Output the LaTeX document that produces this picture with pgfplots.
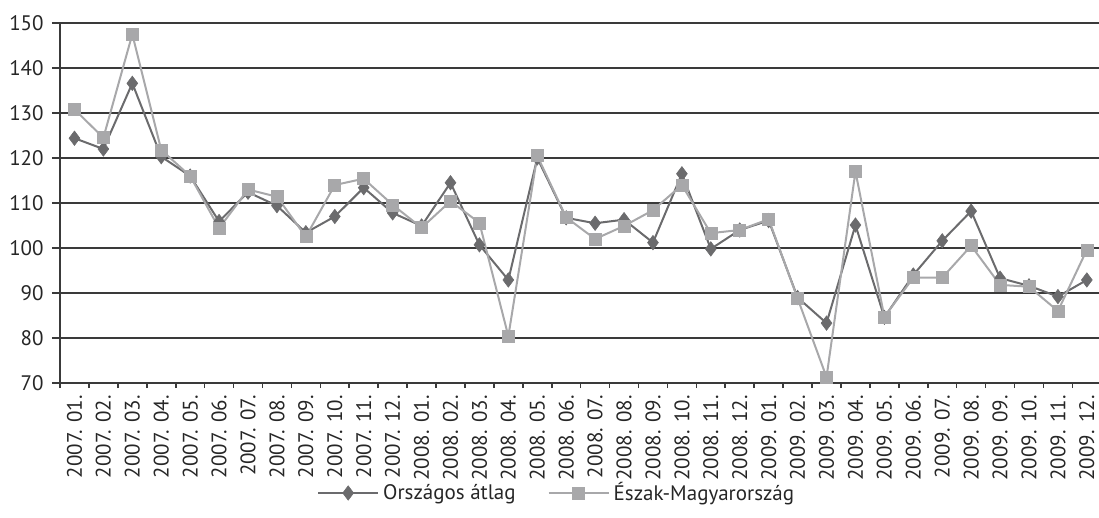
\documentclass[border=0pt]{standalone}
\usepackage{pgfplots}
\pgfplotsset{compat=1.18}
\usepackage{fontspec}
\setmainfont{PT Sans}
\definecolor{darkser}{HTML}{6B6B6D}
\definecolor{lightser}{HTML}{A8A8AA}
\definecolor{gridc}{HTML}{3A3A3A}
\pgfplotstableread{
x orsz eszak
1 124.4 130.8
2 122.0 124.5
3 136.6 147.5
4 120.3 121.8
5 116.0 116.0
6 105.9 104.4
7 112.4 113.0
8 109.4 111.4
9 103.4 102.5
10 107.0 114.0
11 113.4 115.4
12 107.8 109.6
13 104.9 104.5
14 114.5 110.4
15 100.7 105.6
16 92.9 80.4
17 120.0 120.5
18 106.7 106.8
19 105.5 102.0
20 106.3 104.9
21 101.2 108.4
22 116.5 114.0
23 99.8 103.3
24 104.0 104.0
25 106.1 106.4
26 89.0 88.8
27 83.3 71.3
28 105.1 117.0
29 84.6 84.7
30 94.0 93.4
31 101.6 93.4
32 108.2 100.5
33 93.3 91.8
34 91.6 91.4
35 89.2 86.0
36 92.9 99.6
}\datatable
\begin{document}
\begin{tikzpicture}
\useasboundingbox (0,0) rectangle (549.5pt,-259pt);
\begin{axis}[
  at={(30pt,-191.5pt)}, anchor=south west,
  width=519.5pt, height=180pt, scale only axis,
  xmin=0.5, xmax=36.42, ymin=70, ymax=150,
  axis x line*=bottom, axis y line*=left,
  axis line style={draw=gridc, line width=0.8pt, -},
  ytick={70,80,...,150},
  ymajorgrids, major grid style={draw=gridc, line width=0.8pt},
  xtick={1,...,36},
  xticklabels={2007. 01.,2007. 02.,2007. 03.,2007. 04.,2007. 05.,2007. 06.,2007. 07.,2007. 08.,2007. 09.,2007. 10.,2007. 11.,2007. 12.,2008. 01.,2008. 02.,2008. 03.,2008. 04.,2008. 05.,2008. 06.,2008. 07.,2008. 08.,2008. 09.,2008. 10.,2008. 11.,2008. 12.,2009. 01.,2009. 02.,2009. 03.,2009. 04.,2009. 05.,2009. 06.,2009. 07.,2009. 08.,2009. 09.,2009. 10.,2009. 11.,2009. 12.},
  minor xtick={0.5,1.5,...,35.5},
  tick align=outside,
  major tick length=4pt, minor tick length=2.5pt,
  x tick style={draw=none},
  minor x tick style={draw=gridc, line width=0.8pt},
  y tick style={draw=gridc, line width=0.8pt},
  tick label style={font=\fontsize{10.5}{12}\selectfont, text=black!85},
  xticklabel style={rotate=90, anchor=east, inner sep=2pt},
  yticklabel style={anchor=east, inner sep=2pt, xshift=-2pt},
  /pgf/number format/assume math mode=true,
  legend columns=2,
  legend style={at={(0.479,-0.3056)}, anchor=center, draw=none, fill=none,
    font=\fontsize{10.5}{12}\selectfont, text=black!85,
    /tikz/every even column/.append style={column sep=14pt},
    inner sep=0pt},
  legend cell align=left,
  legend image code/.code={
    \draw[mark repeat=2,mark phase=2,#1] plot coordinates {(0pt,0pt) (15pt,0pt) (30pt,0pt)};
  },
]
\addplot[color=darkser, line width=1pt, mark=diamond*, mark size=3.6pt,
  mark options={fill=darkser, draw=darkser, line width=0.3pt}]
  table[x=x, y=orsz] {\datatable};
\addlegendentry{Országos átlag}
\addplot[color=lightser, line width=1pt, mark=square*, mark size=3pt,
  mark options={fill=lightser, draw=lightser, line width=0.3pt}]
  table[x=x, y=eszak] {\datatable};
\addlegendentry{Észak-Magyarország}
\end{axis}
\end{tikzpicture}
\end{document}
